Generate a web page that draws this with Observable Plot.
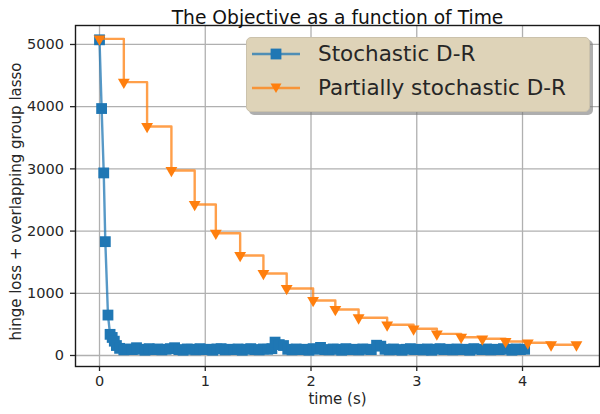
<!DOCTYPE html>
<html><head><meta charset="utf-8">
<script src="https://cdn.jsdelivr.net/npm/d3@7"></script>
<script src="https://cdn.jsdelivr.net/npm/@observablehq/plot@0.6"></script>
<style>
body{margin:0;background:#fff;}
#wrap{position:relative;width:600px;height:414px;font-family:"DejaVu Sans";}
#legend{position:absolute;left:246px;top:37px;width:344px;height:75px;box-sizing:border-box;background:#ded3b8;border:1px solid #cbc2ac;border-radius:5px;box-shadow:3px 3px 0 rgba(120,120,120,0.6);}
.lrow{position:absolute;left:0;height:30px;width:100%;}
.lrow svg{position:absolute;left:4px;top:0;}
.lrow span{position:absolute;left:71px;top:0;line-height:30px;font-size:21.5px;color:#262626;white-space:nowrap;}
</style></head>
<body>
<div id="wrap"><div id="chart"></div><div id="legend"></div></div>
<script>
const titleText = "The Objective as a function of Time";
const xLabel = "time (s)";
const yLabel = "hinge loss + overlapping group lasso";
const seriesNames = ["Stochastic D-R", "Partially stochastic D-R"];
const seriesColors = ["#1f77b4", "#ff7f0e"];
const xTicks = [0, 1, 2, 3, 4];
const yTicks = [0, 1000, 2000, 3000, 4000, 5000];

// Stochastic D-R
const blueT = [0, 0.02, 0.04, 0.055, 0.08, 0.10, 0.12, 0.14, 0.16, 0.19,
  0.23, 0.27, 0.31, 0.35, 0.39, 0.43, 0.47, 0.51, 0.55, 0.59,
  0.63, 0.67, 0.71, 0.75, 0.79, 0.83, 0.87, 0.91, 0.95, 0.99,
  1.03, 1.07, 1.11, 1.15, 1.19, 1.23, 1.27, 1.31, 1.35, 1.39,
  1.43, 1.47, 1.51, 1.55, 1.59, 1.63, 1.66, 1.70, 1.74, 1.78,
  1.82, 1.86, 1.90, 1.94, 1.98, 2.02, 2.06, 2.09, 2.13, 2.17,
  2.21, 2.25, 2.29, 2.33, 2.37, 2.41, 2.45, 2.49, 2.53, 2.57,
  2.62, 2.66, 2.70, 2.74, 2.78, 2.82, 2.86, 2.90, 2.94, 2.98,
  3.02, 3.06, 3.10, 3.14, 3.18, 3.22, 3.26, 3.30, 3.34, 3.38,
  3.42, 3.46, 3.50, 3.54, 3.58, 3.62, 3.66, 3.70, 3.74, 3.78,
  3.82, 3.86, 3.90, 3.94, 3.98, 4.02];
const blueV = [5075, 3970, 2935, 1830, 650, 340, 290, 230, 160, 115,
  90, 105, 95, 125, 100, 85, 110, 95, 105, 90,
  100, 110, 125, 95, 85, 105, 100, 90, 110, 95,
  100, 85, 105, 110, 90, 100, 95, 105, 85, 100,
  110, 95, 90, 105, 100, 110, 215, 175, 160, 100,
  90, 105, 95, 100, 85, 110, 100, 130, 95, 90,
  105, 100, 85, 110, 95, 100, 90, 105, 100, 95,
  165, 150, 100, 90, 105, 95, 85, 100, 110, 95,
  100, 90, 105, 85, 100, 110, 95, 100, 90, 105,
  95, 100, 85, 110, 100, 95, 105, 90, 100, 95,
  110, 100, 85, 105, 95, 100];

// Partially stochastic D-R
const orangeT = [0, 0.23, 0.45, 0.68, 0.90, 1.10, 1.33, 1.55, 1.77, 2.02,
  2.23, 2.45, 2.72, 2.97, 3.19, 3.42, 3.62, 3.84, 4.05, 4.27, 4.51];
const orangeV = [5090, 4394, 3682, 2974, 2428, 1966, 1608, 1318, 1077, 884,
  740, 606, 493, 429, 348, 294, 268, 225, 204, 172, 172];

const blue = blueT.map((t, i) => ({t, v: blueV[i]}));
const orange = orangeT.map((t, i) => ({t, v: orangeV[i]}));

const chart = Plot.plot({
  width: 600, height: 414,
  marginLeft: 75, marginRight: 1, marginTop: 25, marginBottom: 48,
  style: {fontFamily: "DejaVu Sans", fontSize: "14.5px", color: "#262626", background: "white", overflow: "visible"},
  x: {domain: [-0.227, 4.728]},
  y: {domain: [-177, 5305]},
  marks: [
    Plot.gridX(xTicks, {stroke: "#b0b0b0", strokeOpacity: 1, strokeWidth: 1.3}),
    Plot.gridY(yTicks, {stroke: "#b0b0b0", strokeOpacity: 1, strokeWidth: 1.3}),
    Plot.line(blue, {x: "t", y: "v", stroke: seriesColors[0], strokeWidth: 2.4, strokeOpacity: 0.75}),
    Plot.dot(blue, {x: "t", y: "v", symbol: "square", r: 6.1, fill: seriesColors[0], stroke: "none"}),
    Plot.line(orange, {x: "t", y: "v", curve: "step-after", stroke: seriesColors[1], strokeWidth: 2.4, strokeOpacity: 0.75}),
    Plot.dot(orange, {x: "t", y: "v", symbol: "triangle", rotate: 180, r: 4.4, fill: seriesColors[1], stroke: "none"}),
    Plot.frame({stroke: "#1a1a1a", strokeWidth: 1.4}),
    Plot.axisX(xTicks, {tickSize: 5, tickPadding: 4, label: null, tickFormat: d => String(d), strokeWidth: 1.3}),
    Plot.axisY(yTicks, {tickSize: 5, tickPadding: 6.5, label: null, tickFormat: d => String(d), strokeWidth: 1.3}),
    Plot.text([titleText], {text: d => d, frameAnchor: "top", dy: -14.3, fontSize: 18.7, fill: "#111"}),
    Plot.text([xLabel], {text: d => d, frameAnchor: "bottom", dy: 37, fontSize: 15, fill: "#262626"}),
    Plot.text([yLabel], {text: d => d, frameAnchor: "left", textAnchor: "middle", rotate: -90, dx: -59, dy: 5.5, fontSize: 15, fill: "#262626"})
  ]
});
document.getElementById("chart").appendChild(chart);

const legend = d3.select("#legend");
const symbols = ["square", "tri"];
seriesNames.forEach((name, i) => {
  const row = legend.append("div").attr("class", "lrow").style("top", (i === 0 ? 1.3 : 34.7) + "px");
  const svg = row.append("svg").attr("width", 50).attr("height", 30);
  svg.append("line").attr("x1", 1).attr("x2", 49).attr("y1", 15).attr("y2", 15)
    .attr("stroke", seriesColors[i]).attr("stroke-width", 2.4).attr("stroke-opacity", 0.75);
  if (symbols[i] === "square") {
    svg.append("rect").attr("x", 25 - 5.4).attr("y", 15 - 5.4).attr("width", 10.8).attr("height", 10.8).attr("fill", seriesColors[i]);
  } else {
    svg.append("path").attr("d", "M19.5,10.5 L30.5,10.5 L25,20 Z").attr("fill", seriesColors[i]);
  }
  row.append("span").text(name);
});
</script>
</body></html>
